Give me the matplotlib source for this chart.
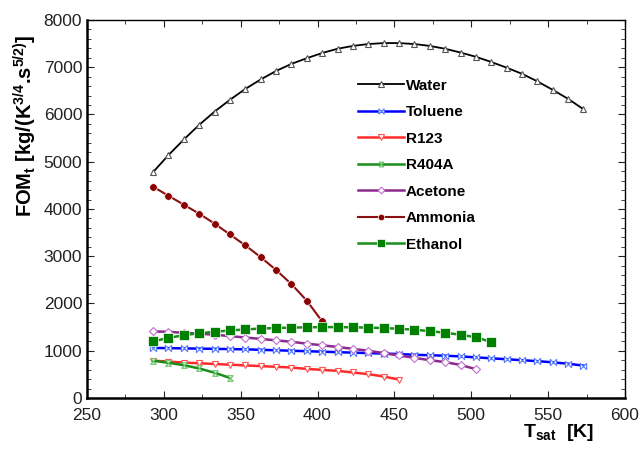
import matplotlib.pyplot as plt
import numpy as np
from matplotlib.ticker import MultipleLocator

plt.rcParams['font.family'] = ['Liberation Sans', 'DejaVu Sans']
plt.rcParams['mathtext.fontset'] = 'custom'
plt.rcParams['mathtext.rm'] = 'Liberation Sans'
plt.rcParams['mathtext.bf'] = 'Liberation Sans:bold'
plt.rcParams['mathtext.it'] = 'Liberation Sans:italic'

# Datos (temperatura de saturacion en K, FOM_t)
t_water = np.arange(293, 574, 10)
fom_water = [4780, 5140, 5470, 5780, 6060, 6310, 6540, 6740, 6920, 7070,
             7190, 7300, 7390, 7450, 7490, 7510, 7510, 7490, 7450, 7390,
             7310, 7220, 7110, 6990, 6860, 6700, 6520, 6330, 6110]

t_toluene = np.arange(293, 574, 10)
fom_toluene = [1060, 1055, 1050, 1045, 1040, 1035, 1030, 1020, 1010, 1000,
               990, 980, 970, 960, 950, 940, 930, 915, 905, 895,
               880, 860, 840, 820, 800, 780, 755, 725, 685]

t_r123 = np.arange(293, 454, 10)
fom_r123 = [790, 770, 750, 735, 720, 705, 690, 675, 660, 645,
            615, 595, 575, 540, 505, 455, 390]

t_r404a = np.arange(293, 344, 10)
fom_r404a = [790, 745, 695, 625, 535, 425]

t_acetone = np.arange(293, 504, 10)
fom_acetone = [1410, 1400, 1380, 1360, 1340, 1310, 1280, 1250, 1220, 1190,
               1150, 1115, 1080, 1040, 1000, 950, 900, 850, 800, 760,
               700, 610]

t_ammonia = np.arange(293, 404, 10)
fom_ammonia = [4470, 4280, 4090, 3900, 3690, 3460, 3230, 2980, 2710, 2410,
               2060, 1620]

t_ethanol = np.arange(293, 514, 10)
fom_ethanol = [1200, 1270, 1330, 1370, 1400, 1430, 1450, 1470, 1480, 1490,
               1495, 1500, 1500, 1495, 1490, 1480, 1465, 1445, 1415, 1380,
               1340, 1285, 1185]

# Marcadores propios
bowtie_h = [(-1, -1), (1, 1), (1, -1), (-1, 1), (-1, -1)]
bowtie_v = [(-1, 1), (1, 1), (-1, -1), (1, -1), (-1, 1)]

fig = plt.figure(figsize=(6.42, 4.53), dpi=100)
ax = fig.add_axes([0.1355, 0.1214, 0.838, 0.8346])

ax.plot(t_water, fom_water, color='black', lw=1.3, marker='^', ms=5,
        mfc='white', mec='#555555', mew=0.8, label='Water')
ax.plot(t_toluene, fom_toluene, color='#0000ff', lw=1.8, marker=bowtie_h, ms=4.5,
        mfc='white', mec='#5a7dff', mew=0.8, label='Toluene')
ax.plot(t_r123, fom_r123, color='#ff2a2a', lw=1.8, marker='v', ms=5,
        mfc='white', mec='#ff5555', mew=0.8, label='R123')
ax.plot(t_r404a, fom_r404a, color='#1a8c1a', lw=1.8, marker=bowtie_v, ms=4,
        mfc='white', mec='#66c266', mew=0.8, label='R404A')
ax.plot(t_acetone, fom_acetone, color='#8b2a8b', lw=1.8, marker='D', ms=4,
        mfc='white', mec='#c070d0', mew=0.8, label='Acetone')
ax.plot(t_ammonia, fom_ammonia, color='#8b1010', lw=1.5, marker='o', ms=5.5,
        mfc='#8b0000', mec='white', mew=0.5, label='Ammonia')
ax.plot(t_ethanol, fom_ethanol, color='#1a8c1a', lw=1.8, marker='s', ms=6.5,
        mfc='#008000', mec='white', mew=0.5, label='Ethanol')

ax.set_xlim(250, 600)
ax.set_ylim(0, 8000)
ax.xaxis.set_major_locator(MultipleLocator(50))
ax.xaxis.set_minor_locator(MultipleLocator(25))
ax.yaxis.set_major_locator(MultipleLocator(1000))
ax.yaxis.set_minor_locator(MultipleLocator(200))
ax.tick_params(which='both', direction='in', top=True, right=True,
               labelsize=12.5, colors='#222222')
ax.tick_params(which='major', length=5)
ax.tick_params(which='minor', length=3)
ax.tick_params(axis='x', pad=7)

for lado in ['left', 'bottom']:
    ax.spines[lado].set_linewidth(1.8)
for lado in ['top', 'right']:
    ax.spines[lado].set_linewidth(1.0)

ax.set_ylabel(r'FOM$_\mathbf{t}$ [kg/(K$^\mathbf{3/4}$.s$^\mathbf{5/2)}$]',
              fontsize=14.5, fontweight='bold')
ax.yaxis.set_label_coords(-0.09, 0.72)
fig.text(0.87, 0.035, r'T$_\mathbf{sat}$  [K]', fontsize=14,
         fontweight='bold', ha='center')

leg = ax.legend(loc='upper left', bbox_to_anchor=(0.49, 0.865), frameon=False,
                prop={'weight': 'bold', 'size': 11}, handlelength=3.0,
                handletextpad=0.1, labelspacing=0.82, borderpad=0,
                markerscale=0.85)

fig.savefig('out.png', dpi=100)
